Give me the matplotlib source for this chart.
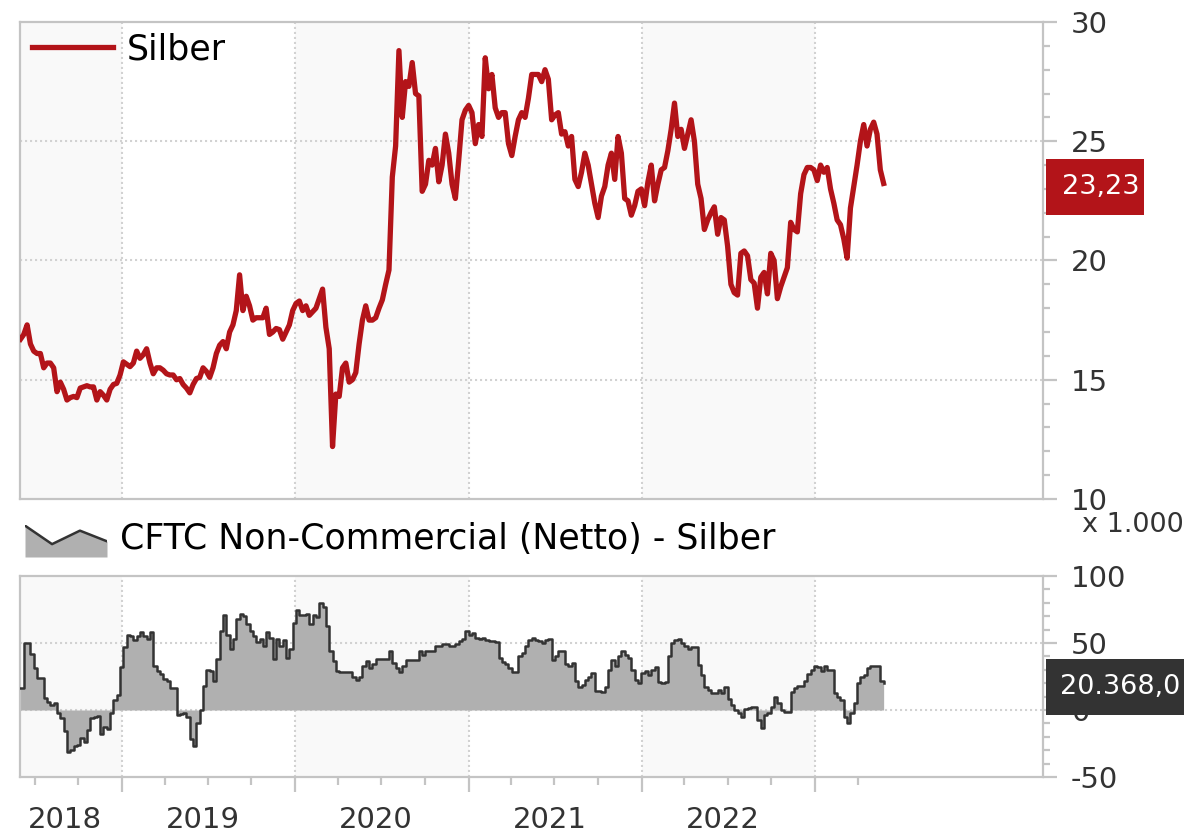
import numpy as np
import pandas as pd
import matplotlib
matplotlib.use('Agg')
import matplotlib.pyplot as plt
import matplotlib.dates as mdates
from matplotlib.patches import Rectangle
from matplotlib.transforms import blended_transform_factory

plt.rcParams['font.family'] = ['DejaVu Sans']
plt.rcParams['axes.unicode_minus'] = False

# weekly closes, silver in USD per ounce
week_start = '2018-06-01'
silver_prices = [
    16.7, 16.9, 17.3, 16.5, 16.2, 16.1, 16.1, 15.5, 15.7, 15.7,
    15.5, 14.5, 14.9, 14.6, 14.15, 14.25, 14.3, 14.25, 14.65, 14.7,
    14.75, 14.7, 14.7, 14.15, 14.5, 14.35, 14.15, 14.6, 14.8, 14.85,
    15.2, 15.75, 15.65, 15.55, 15.7, 16.2, 15.9, 16.05, 16.3, 15.7,
    15.25, 15.5, 15.5, 15.4, 15.25, 15.2, 15.2, 15.0, 15.05, 14.8,
    14.65, 14.45, 14.8, 15.05, 15.1, 15.5, 15.35, 15.1, 15.5, 16.1,
    16.45, 16.6, 16.3, 17.0, 17.3, 17.9, 19.4, 17.9, 18.5, 18.1,
    17.5, 17.6, 17.6, 17.6, 18.0, 16.9, 17.0, 17.15, 17.1, 16.7,
    17.0, 17.3, 17.9, 18.2, 18.3, 17.9, 18.1, 17.7, 17.85, 18.0,
    18.4, 18.8, 17.2, 16.3, 12.2, 14.4, 14.3, 15.5, 15.7, 14.9,
    15.0, 15.3, 16.5, 17.5, 18.1, 17.5, 17.5, 17.6, 18.0, 18.35,
    19.0, 19.6, 23.5, 24.8, 28.8, 26.0, 27.5, 27.3, 28.3, 27.0,
    26.9, 22.9, 23.2, 24.2, 24.0, 24.7, 23.3, 24.0, 25.3, 24.5,
    23.2, 22.6, 24.2, 25.9, 26.3, 26.5, 26.2, 24.9, 25.7, 25.2,
    28.5, 27.2, 27.8, 26.4, 26.0, 26.2, 26.2, 24.9, 24.4, 25.2,
    25.9, 26.2, 26.0, 26.8, 27.8, 27.8, 27.8, 27.5, 28.0, 27.6,
    25.9, 26.1, 26.2, 25.3, 25.4, 24.8, 25.2, 23.4, 23.1, 23.7,
    24.5, 24.0, 23.2, 22.4, 21.8, 22.7, 23.1, 24.0, 24.5, 23.4,
    25.2, 24.5, 22.6, 22.5, 21.9, 22.3, 22.9, 23.0, 22.3, 23.3,
    24.0, 22.5, 23.2, 23.8, 23.9, 24.6, 25.5, 26.6, 25.2, 25.5,
    24.7, 25.3, 25.9, 25.0, 23.2, 22.6, 21.3, 21.7, 22.0, 22.25,
    21.1, 21.8, 21.7, 20.6, 19.0, 18.65, 18.55, 20.3, 20.4, 20.2,
    19.2, 19.05, 18.0, 19.3, 19.5, 18.6, 20.3, 20.0, 18.4, 18.9,
    19.3, 19.7, 21.6, 21.3, 21.2, 22.8, 23.6, 23.9, 23.9, 23.8,
    23.35, 24.0, 23.7, 23.9, 23.0, 22.4, 21.7, 21.5, 20.9, 20.1,
    22.2, 23.1, 24.0, 25.0, 25.7, 24.8, 25.5, 25.8, 25.3, 23.8, 23.23,
]

# CFTC non-commercial net position, thousand contracts
cftc_net = [
    16.4, 50, 50, 42, 31, 24, 24, 9, 6, 4,
    5, -2.5, -6, -16, -31.5, -30, -27, -26, -21, -24,
    -15, -6.3, -5, -4.5, -17.7, -12.6, -14, -2.5, 7.6, 11.4,
    32, 46.7, 56, 55, 52, 55.5, 58, 55, 53, 58,
    33, 29, 26.5, 23, 22, 16.4, 16.4, -3.8, -3, -2.5,
    -5, -22, -27, -10, 0, 18, 30, 29, 21.5, 38,
    59.3, 70.7, 56, 45.5, 53, 68, 72, 70, 64, 59,
    55, 50.5, 53, 48, 58, 54, 38, 53, 48, 52,
    39, 45.5, 65, 74.5, 70.7, 70.7, 72, 64.4, 70.7, 69.4,
    80, 77, 63, 44, 36.6, 29, 28.3, 28.3, 28.3, 28,
    25, 22.7, 25, 33, 36.6, 31.6, 34, 37.9, 37.9, 37.9,
    38, 44.2, 35.4, 31.6, 28, 32.5, 37.5, 37.5, 37.5, 37.5,
    43.75, 41.25, 43.75, 43.75, 43.75, 47.5, 48, 49.5, 49.5, 48,
    47.5, 49.5, 51.25, 53, 58.75, 56.25, 57.5, 54, 53, 54,
    52, 51.75, 51.5, 51, 38.75, 35.5, 34, 31, 28, 28.5,
    40, 42.5, 47.5, 52.5, 53.75, 52.5, 51.75, 50, 52.5, 53,
    37.5, 40, 43.75, 43.75, 34, 32.5, 35, 22, 17.5, 18.75,
    22.5, 25, 27.5, 14, 14, 13.75, 17.5, 30, 37.5, 32.5,
    40, 44, 41.25, 38.75, 30, 22.5, 20, 27.5, 28.75, 26.25,
    30, 32, 21.25, 20, 21, 40, 50, 52.5, 53, 50,
    47.5, 45.5, 47, 47, 33.75, 26.25, 17.5, 15, 12.5, 12.5,
    15, 12.5, 17.5, 8, 3.75, 0, -2.5, -5, 0.5, 1.5,
    2.5, 2.5, -7.5, -13.75, -4, -2.5, 2.5, 10, 5, 0,
    -1.25, -1.25, 13.75, 16.25, 18, 18, 22, 27, 30, 33,
    32, 28.75, 33, 30, 30, 12.5, 10, 7.5, -5, -10,
    -2.5, 5, 20, 25, 26.25, 31.25, 32.5, 33, 33, 22, 20.368,
]

year_labels = ['2018', '2019', '2020', '2021', '2022']
silver_ticks = [10, 15, 20, 25, 30]
cftc_ticks = [-50, 0, 50, 100]

silver_dates = pd.date_range(week_start, periods=len(silver_prices), freq='7D')
cftc_dates = pd.date_range(week_start, periods=len(cftc_net), freq='7D')

RED = '#b31419'
DARK = '#333333'
FILL = '#b0b0b0'
FRAME = '#c4c4c4'
GRID = '#d2d2d2'
BAND = '#f9f9f9'
TEXT = '#333333'

x_min = pd.Timestamp('2018-05-31')
x_max = pd.Timestamp('2024-04-26')
year_starts = pd.date_range('2019-01-01', '2023-01-01', freq='YS')
quarter_starts = pd.date_range('2018-07-01', '2023-04-01', freq='QS')

fig = plt.figure(figsize=(11.96, 8.35), dpi=100)
ax1 = fig.add_axes([0.01672, 0.40240, 0.85535, 0.57126])
ax2 = fig.add_axes([0.01672, 0.06946, 0.85535, 0.24072])


def style_axes(ax, ylim, ticks, minor_step, grid_vals):
    ax.set_xlim(x_min, x_max)
    ax.set_ylim(*ylim)
    ax.set_facecolor('white')
    for spine in ax.spines.values():
        spine.set_color(FRAME)
        spine.set_linewidth(1.6)
    # shaded bands for every other year
    for start, end in [(x_min, '2019-01-01'), ('2020-01-01', '2021-01-01'),
                       ('2022-01-01', '2023-01-01')]:
        ax.axvspan(pd.Timestamp(start), pd.Timestamp(end), color=BAND, lw=0, zorder=0)
    for year in year_starts:
        ax.axvline(year, color=GRID, lw=1.5, ls=(0, (1, 1.4)), zorder=0.5)
    for val in grid_vals:
        ax.axhline(val, color=GRID, lw=1.5, ls=(0, (1, 1.4)), zorder=0.5)

    ax.yaxis.tick_right()
    ax.set_yticks(ticks, [str(t) for t in ticks])
    ax.set_yticks(np.arange(ylim[0], ylim[1] + minor_step / 2, minor_step), minor=True)
    ax.tick_params(axis='y', which='major', length=10, width=1.6, color=FRAME,
                   labelsize=21, labelcolor=TEXT, pad=10)
    ax.tick_params(axis='y', which='minor', length=5, width=1.6, color=FRAME)


style_axes(ax1, (10, 30), silver_ticks, 1, [15, 20, 25])
style_axes(ax2, (-50, 100), cftc_ticks, 10, [0, 50])

# silver price line
ax1.plot(silver_dates, silver_prices, color=RED, lw=3.8, zorder=3, label='Silber',
         solid_joinstyle='round')
ax1.tick_params(axis='x', which='both', bottom=False, labelbottom=False)
leg = ax1.legend(loc='upper left', bbox_to_anchor=(0.0117, 0.979), frameon=False,
                 fontsize=25, handlelength=2.33, handletextpad=0.4, borderpad=0,
                 borderaxespad=0)
for handle in leg.legend_handles:
    handle.set_linewidth(3.8)

# cftc net positions as filled steps
ax2.fill_between(cftc_dates, cftc_net, 0, step='post', color=FILL, lw=0, zorder=2)
ax2.step(cftc_dates, cftc_net, where='post', color=DARK, lw=1.8, zorder=3)

ax2.set_xticks(year_starts)
ax2.set_xticks(quarter_starts, minor=True)
ax2.tick_params(axis='x', which='major', length=11, width=1.6, color=FRAME,
                labelbottom=False)
ax2.tick_params(axis='x', which='minor', length=6, width=1.6, color=FRAME,
                labelbottom=False)
ax2.set_xlim(x_min, x_max)

# year labels centred in the visible part of each year
for label in year_labels:
    lo = max(pd.Timestamp(f'{label}-01-01'), x_min)
    hi = pd.Timestamp(f'{int(label) + 1}-01-01')
    mid = lo + (hi - lo) / 2 - pd.Timedelta(days=12)
    ax2.text(mdates.date2num(mid), -0.214, label, transform=ax2.get_xaxis_transform(),
             ha='center', va='center', fontsize=21, color=TEXT)

# legend for the lower panel
icon = fig.add_axes([25 / 1196, 1 - 557 / 835, 82 / 1196, 32 / 835])
icon_x = [0, 0.33, 0.67, 1]
icon_y = [1, 0.41, 0.84, 0.5]
icon.fill_between(icon_x, icon_y, 0, color=FILL, lw=0)
icon.plot(icon_x, icon_y, color=DARK, lw=1.8)
icon.set_xlim(0, 1)
icon.set_ylim(0, 1.02)
icon.axis('off')
fig.text(120 / 1196, 1 - 539 / 835, 'CFTC Non-Commercial (Netto) - Silber',
         fontsize=25, va='center', ha='left', color='black')
fig.text(1082 / 1196, 1 - 525 / 835, 'x 1.000', fontsize=19.5, va='center',
         ha='left', color=TEXT)

# value boxes with the latest values
last_silver = silver_prices[-1]
last_cftc = cftc_net[-1]
silver_text = f'{last_silver:.2f}'.replace('.', ',')
cftc_text = f'{last_cftc * 1000:,.1f}'.replace(',', '#').replace('.', ',').replace('#', '.')

for ax, val, txt, color, width, height, shift in [
    (ax1, last_silver, silver_text, RED, 0.0958, 2.35, 0.15),
    (ax2, last_cftc, cftc_text, DARK, 0.1349, 41.8, 3.0),
]:
    trans = blended_transform_factory(ax.transAxes, ax.transData)
    centre = val - shift
    ax.add_patch(Rectangle((1.003, centre - height / 2), width, height, transform=trans,
                           facecolor=color, edgecolor='none', clip_on=False, zorder=10))
    ax.text(1.003 + width - 0.004, centre, txt, transform=trans, ha='right', va='center',
            color='white', fontsize=19.5, zorder=11)

fig.savefig('out.png', dpi=100)
